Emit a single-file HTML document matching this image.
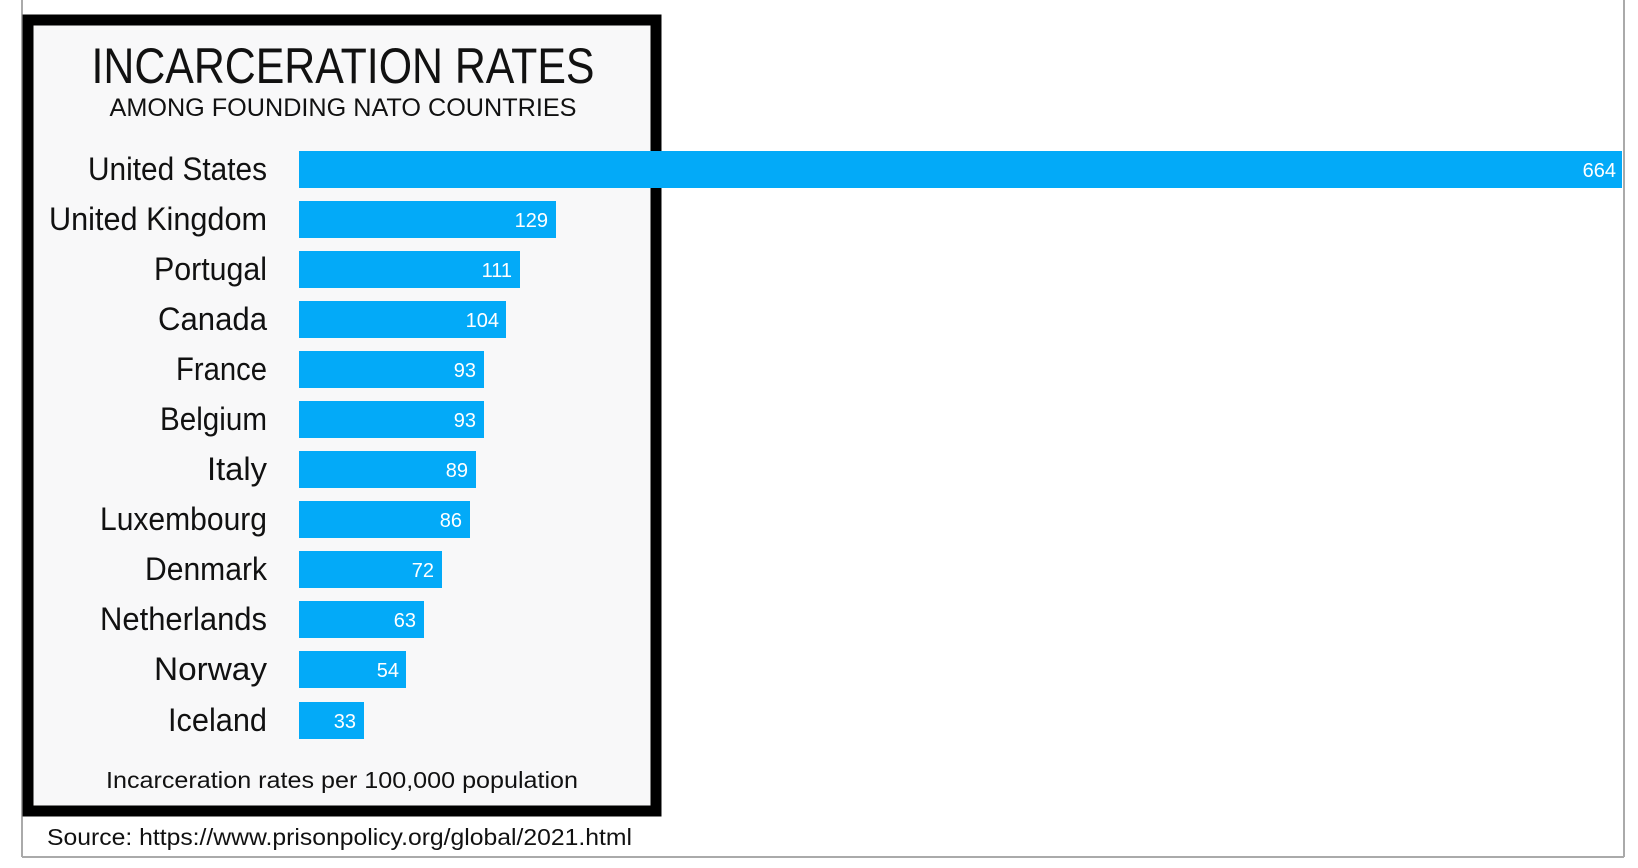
<!DOCTYPE html>
<html><head><meta charset="utf-8"><style>html,body{margin:0;padding:0;background:#fff}svg{display:block}</style></head>
<body>
<svg width="1638" height="868" xmlns="http://www.w3.org/2000/svg" font-family="Liberation Sans, sans-serif">
<rect width="1638" height="868" fill="#fff"/>
<line x1="22" y1="0" x2="22" y2="857" stroke="#aaa" stroke-width="2"/>
<line x1="22" y1="857" x2="1624" y2="857" stroke="#aaa" stroke-width="2"/>
<line x1="1624" y1="0" x2="1624" y2="857" stroke="#aaa" stroke-width="2"/>
<rect x="28" y="20" width="628" height="791" fill="#f8f8f9" stroke="#000" stroke-width="11"/>
<text x="343" y="83" text-anchor="middle" font-size="50" textLength="503" lengthAdjust="spacingAndGlyphs" fill="#111">INCARCERATION RATES</text>
<text x="343" y="116" text-anchor="middle" font-size="25" textLength="467" lengthAdjust="spacingAndGlyphs" fill="#111">AMONG FOUNDING NATO COUNTRIES</text>
<g fill="#03aaf8">
<rect x="299" y="151" width="1323" height="37"/>
<rect x="299" y="201" width="257" height="37"/>
<rect x="299" y="251" width="221" height="37"/>
<rect x="299" y="301" width="207" height="37"/>
<rect x="299" y="351" width="185" height="37"/>
<rect x="299" y="401" width="185" height="37"/>
<rect x="299" y="451" width="177" height="37"/>
<rect x="299" y="501" width="171" height="37"/>
<rect x="299" y="551" width="143" height="37"/>
<rect x="299" y="601" width="125" height="37"/>
<rect x="299" y="651" width="107" height="37"/>
<rect x="299" y="702" width="65" height="37"/>
</g>
<g font-size="32" fill="#111" text-anchor="end" lengthAdjust="spacingAndGlyphs">
<text x="267" y="180" textLength="179" lengthAdjust="spacingAndGlyphs">United States</text>
<text x="267" y="230" textLength="218" lengthAdjust="spacingAndGlyphs">United Kingdom</text>
<text x="267" y="280" textLength="113" lengthAdjust="spacingAndGlyphs">Portugal</text>
<text x="267" y="330" textLength="109" lengthAdjust="spacingAndGlyphs">Canada</text>
<text x="267" y="380" textLength="91" lengthAdjust="spacingAndGlyphs">France</text>
<text x="267" y="430" textLength="107" lengthAdjust="spacingAndGlyphs">Belgium</text>
<text x="267" y="480" textLength="60" lengthAdjust="spacingAndGlyphs">Italy</text>
<text x="267" y="530" textLength="167" lengthAdjust="spacingAndGlyphs">Luxembourg</text>
<text x="267" y="580" textLength="122" lengthAdjust="spacingAndGlyphs">Denmark</text>
<text x="267" y="630" textLength="167" lengthAdjust="spacingAndGlyphs">Netherlands</text>
<text x="267" y="680" textLength="113" lengthAdjust="spacingAndGlyphs">Norway</text>
<text x="267" y="731" textLength="99" lengthAdjust="spacingAndGlyphs">Iceland</text>
</g>
<g font-size="20" fill="#fff" text-anchor="end">
<text x="1616" y="177">664</text>
<text x="548" y="227">129</text>
<text x="512" y="277">111</text>
<text x="499" y="327">104</text>
<text x="476" y="377">93</text>
<text x="476" y="427">93</text>
<text x="468" y="477">89</text>
<text x="462" y="527">86</text>
<text x="434" y="577">72</text>
<text x="416" y="627">63</text>
<text x="399" y="677">54</text>
<text x="356" y="728">33</text>
</g>
<text x="342" y="788" text-anchor="middle" font-size="23" textLength="472" lengthAdjust="spacingAndGlyphs" fill="#111">Incarceration rates per 100,000 population</text>
<text x="47" y="845" font-size="23" textLength="585" lengthAdjust="spacingAndGlyphs" fill="#111">Source: https://www.prisonpolicy.org/global/2021.html</text>
</svg>
</body></html>
